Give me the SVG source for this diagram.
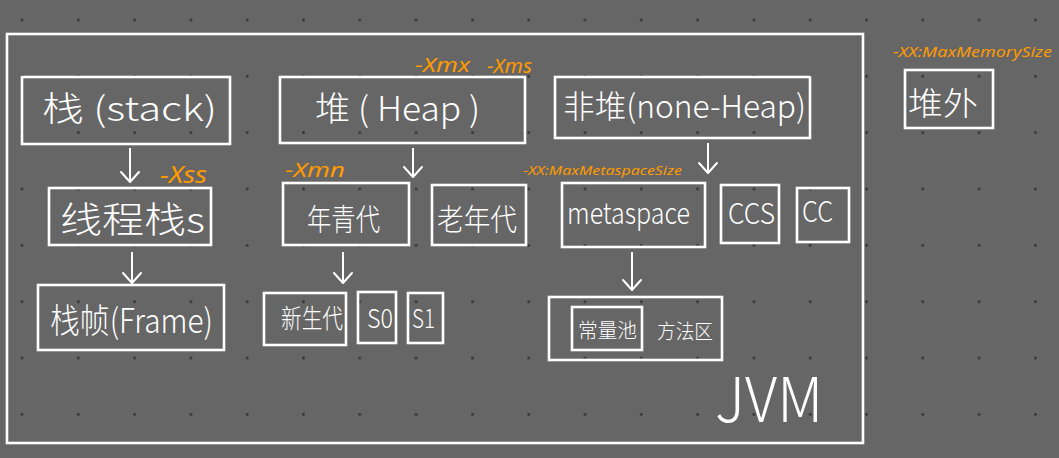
<svg xmlns="http://www.w3.org/2000/svg" width="1059" height="458" viewBox="0 0 1059 458">
<defs>
<pattern id="dots" patternUnits="userSpaceOnUse" x="-6.15" y="-8.18" width="56.3" height="56.35">
<circle cx="28.15" cy="28.18" r="1.4" fill="#343434"/>
</pattern>
<marker id="ah" markerWidth="24" markerHeight="24" viewBox="-12 -12 24 24" refX="0" refY="0" orient="auto" markerUnits="userSpaceOnUse">
<path d="M-10,-9 L0,0 L-10,9" fill="none" stroke="#ffffff" stroke-width="2" stroke-linecap="round" stroke-linejoin="round"/>
</marker>
</defs>
<style>
.box{fill:none;stroke:#ffffff;stroke-width:2.6}
.t{fill:#ffffff;font-family:"Noto Sans CJK SC","Liberation Sans",sans-serif;font-weight:300}
.o{fill:#ff9a00;font-family:"Noto Sans","Liberation Sans",sans-serif;font-style:italic}
.arr{stroke:#ffffff;stroke-width:2;fill:none;marker-end:url(#ah)}
</style>
<rect width="1059" height="458" fill="#666666"/>
<rect width="1059" height="458" fill="url(#dots)"/>

<g id="jvm">
<rect class="box" x="7" y="34" width="856" height="409"/>
<text class="t" x="715" y="422" font-size="62" textLength="108" lengthAdjust="spacingAndGlyphs">JVM</text>
</g>

<g id="stack">
<rect class="box" x="22" y="77" width="208" height="67"/>
<text class="t" x="42" y="121" font-size="34" textLength="175" lengthAdjust="spacingAndGlyphs">栈 (stack)</text>
</g>
<g id="thread-stack">
<rect class="box" x="49" y="188" width="162" height="57"/>
<text class="t" x="60" y="233" font-size="36" textLength="145" lengthAdjust="spacingAndGlyphs">线程栈s</text>
<text class="o" x="160" y="183" font-size="24" textLength="47" lengthAdjust="spacingAndGlyphs">-Xss</text>
</g>
<g id="frame">
<rect class="box" x="38" y="285" width="186" height="65"/>
<text class="t" x="50" y="333" font-size="34" textLength="163" lengthAdjust="spacingAndGlyphs">栈帧(Frame)</text>
</g>

<g id="heap">
<rect class="box" x="280" y="77" width="245" height="66"/>
<text class="t" x="315" y="121" font-size="34" textLength="165" lengthAdjust="spacingAndGlyphs">堆 ( Heap )</text>
<text class="o" x="415" y="72" font-size="19" textLength="55" lengthAdjust="spacingAndGlyphs">-Xmx</text>
<text class="o" x="487" y="73" font-size="19" textLength="45" lengthAdjust="spacingAndGlyphs">-Xms</text>
</g>
<g id="young">
<rect class="box" x="283" y="183" width="126" height="62"/>
<text class="t" x="307" y="230" font-size="30" textLength="73" lengthAdjust="spacingAndGlyphs">年青代</text>
<text class="o" x="285" y="177" font-size="20" textLength="60" lengthAdjust="spacingAndGlyphs">-Xmn</text>
</g>
<g id="old">
<rect class="box" x="432" y="185" width="94" height="60"/>
<text class="t" x="437" y="230" font-size="30" textLength="80" lengthAdjust="spacingAndGlyphs">老年代</text>
</g>
<g id="eden">
<rect class="box" x="264" y="293" width="82" height="52"/>
<text class="t" x="281" y="328" font-size="26" textLength="62" lengthAdjust="spacingAndGlyphs">新生代</text>
</g>
<g id="s0">
<rect class="box" x="358" y="292" width="38" height="51"/>
<text class="t" x="367" y="328" font-size="26" textLength="26" lengthAdjust="spacingAndGlyphs">S0</text>
</g>
<g id="s1">
<rect class="box" x="408" y="293" width="35" height="50"/>
<text class="t" x="412" y="328" font-size="26" textLength="23" lengthAdjust="spacingAndGlyphs">S1</text>
</g>

<g id="nonheap">
<rect class="box" x="555" y="77" width="255" height="61"/>
<text class="t" x="563" y="118" font-size="32" textLength="243" lengthAdjust="spacingAndGlyphs">非堆(none-Heap)</text>
</g>
<g id="metaspace">
<rect class="box" x="562" y="183" width="143" height="64"/>
<text class="t" x="567" y="224" font-size="30" textLength="123" lengthAdjust="spacingAndGlyphs">metaspace</text>
<text class="o" x="523" y="175" font-size="13" textLength="159" lengthAdjust="spacingAndGlyphs">-XX:MaxMetaspaceSize</text>
</g>
<g id="ccs">
<rect class="box" x="721" y="185" width="58" height="58"/>
<text class="t" x="728" y="224" font-size="28" textLength="47" lengthAdjust="spacingAndGlyphs">CCS</text>
</g>
<g id="cc">
<rect class="box" x="797" y="188" width="52" height="54"/>
<text class="t" x="802" y="222" font-size="28" textLength="31" lengthAdjust="spacingAndGlyphs">CC</text>
</g>
<g id="method-area">
<rect class="box" x="549" y="297" width="173" height="63"/>
<text class="t" x="657" y="339" font-size="20" textLength="56" lengthAdjust="spacingAndGlyphs">方法区</text>
</g>
<g id="const-pool">
<rect class="box" x="572" y="307" width="70" height="43"/>
<text class="t" x="578" y="338" font-size="20" textLength="59" lengthAdjust="spacingAndGlyphs">常量池</text>
</g>

<g id="offheap">
<rect class="box" x="905" y="70" width="88" height="58"/>
<text class="t" x="908" y="115" font-size="32" textLength="70" lengthAdjust="spacingAndGlyphs">堆外</text>
<text class="o" x="893" y="57" font-size="15" textLength="159" lengthAdjust="spacingAndGlyphs">-XX:MaxMemorySize</text>
</g>

<g id="connectors">
<line class="arr" x1="130" y1="148" x2="130" y2="182"/>
<line class="arr" x1="132" y1="252" x2="132" y2="283"/>
<line class="arr" x1="413" y1="148" x2="413" y2="177"/>
<line class="arr" x1="343" y1="252" x2="343" y2="283"/>
<line class="arr" x1="708" y1="143" x2="708" y2="173"/>
<line class="arr" x1="632" y1="252" x2="632" y2="290"/>
</g>
</svg>
